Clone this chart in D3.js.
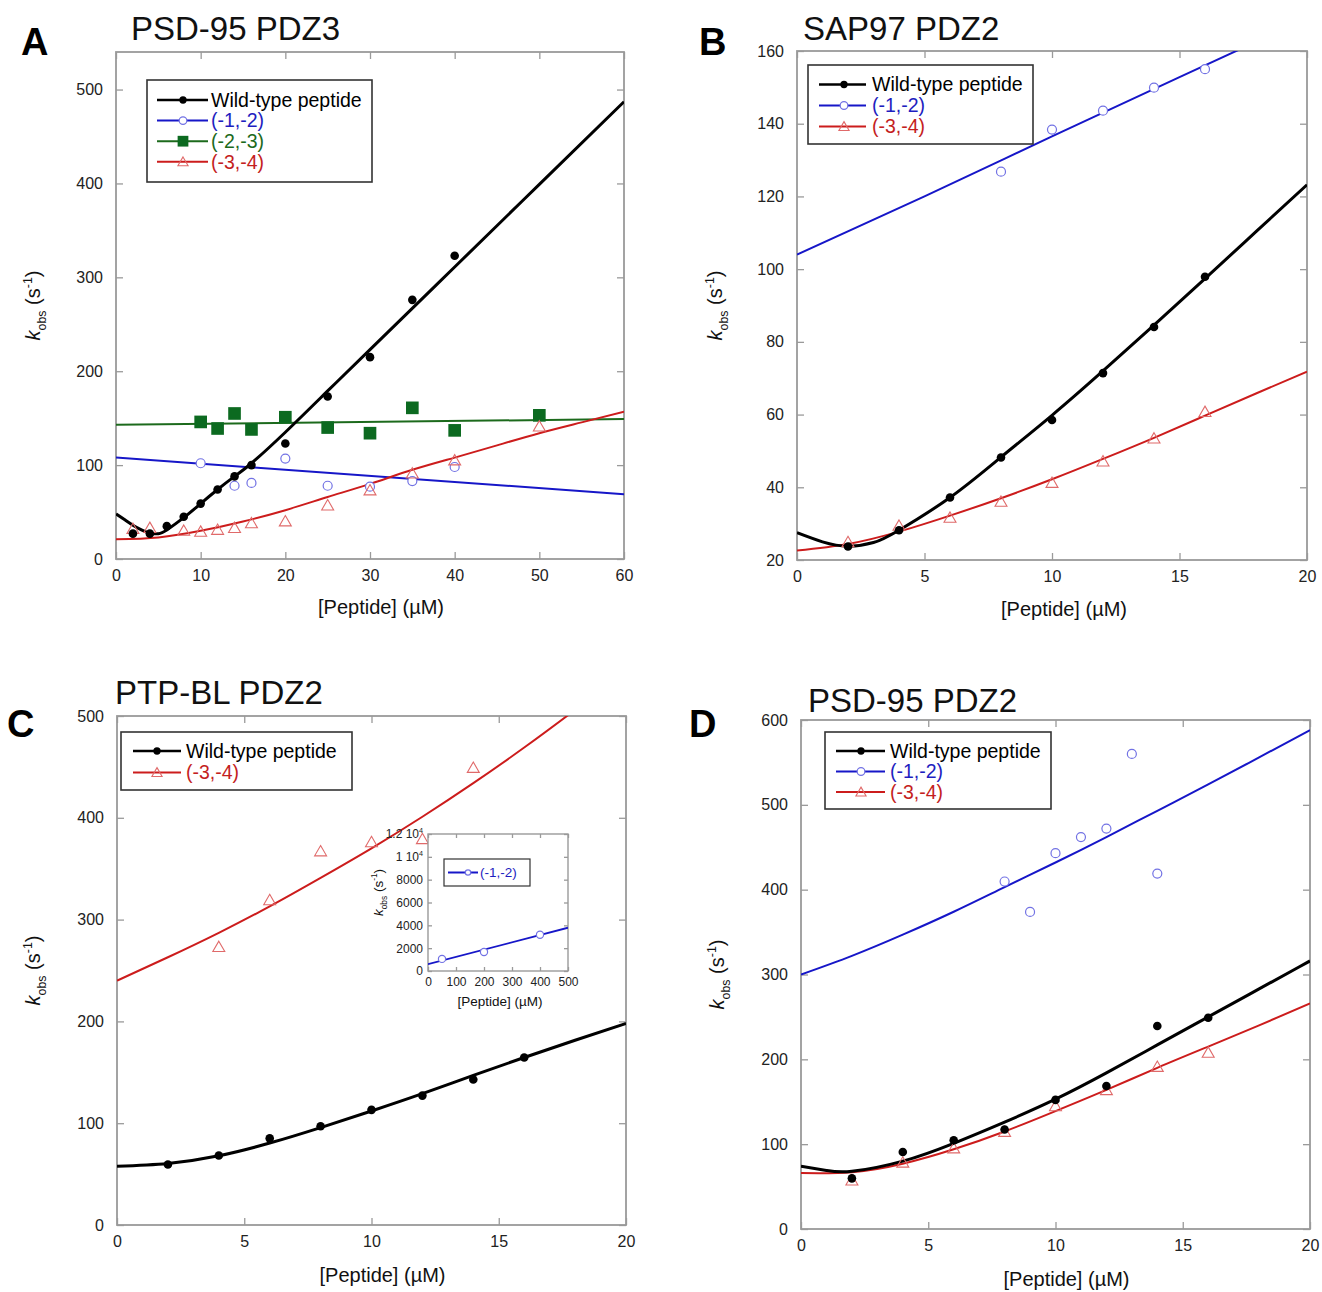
<!DOCTYPE html>
<html>
<head>
<meta charset="utf-8">
<script src="https://cdn.jsdelivr.net/npm/d3@7"></script>
<style>
  body { margin: 0; background: #fff; }
  svg { display: block; font-family: "Liberation Sans", Arial, Helvetica, sans-serif; }
</style>
</head>
<body>
<svg id="fig" width="1322" height="1292"></svg>
<script>
// ---- data ----
// A: PSD-95 PDZ3
var aWtX = [2, 4, 6, 8, 10, 12, 14, 16, 20, 25, 30, 35, 40];
var aWtY = [27, 27, 35, 45, 59, 74, 88, 100, 123, 173, 215, 276, 323];
var aWtFitX = [0, 1, 2, 3, 4, 5, 6, 8, 10, 12, 14, 16, 20, 25, 30, 40, 50, 60];
var aWtFitY = [48, 42, 36, 31, 27.5, 27, 31, 44, 59, 74, 88, 102, 135, 179, 223, 311, 399, 487];
var aM12X = [10, 14, 16, 20, 25, 30, 35, 40];
var aM12Y = [102, 78, 81, 107, 78, 77, 83, 98];
var aM12FitX = [0, 60];
var aM12FitY = [108, 69];
var aM23X = [10, 12, 14, 16, 20, 25, 30, 35, 40, 50];
var aM23Y = [146, 139, 155, 138, 151, 140, 134, 161, 137, 153];
var aM23FitX = [0, 60];
var aM23FitY = [143, 149];
var aM34X = [2, 4, 8, 10, 12, 14, 16, 20, 25, 30, 35, 40, 50];
var aM34Y = [32, 33, 30, 29, 31, 33, 38, 40, 57, 73, 91, 105, 141];
var aM34FitX = [0, 5, 10, 15, 20, 25, 30, 35, 40, 45, 50, 55, 60];
var aM34FitY = [21, 23, 30, 40, 52, 66, 80, 95, 108, 121, 134, 145.5, 157];

// B: SAP97 PDZ2
var bWtX = [2, 4, 6, 8, 10, 12, 14, 16];
var bWtY = [23.7, 28.2, 37.2, 48.2, 58.5, 71.4, 84.1, 97.9];
var bWtFitX = [0, 1, 2, 3, 4, 6, 8, 10, 12, 14, 16, 18, 20];
var bWtFitY = [27.5, 25, 23.8, 24.8, 28.2, 37.2, 48.3, 59.8, 72, 84.6, 97.4, 110.3, 123.2];
var bM12X = [8, 10, 12, 14, 16];
var bM12Y = [126.8, 138.4, 143.6, 149.9, 155];
var bM12FitX = [0, 5, 10, 15, 20];
var bM12FitY = [104, 120, 136.5, 152.8, 169];
var bM34X = [2, 4, 6, 8, 10, 12, 14, 16];
var bM34Y = [24.9, 29.4, 31.6, 36, 41.2, 47.1, 53.4, 60.7];
var bM34FitX = [0, 2, 4, 6, 8, 10, 12, 14, 16, 18, 20];
var bM34FitY = [22.6, 24.4, 27.8, 32.2, 37, 42.2, 47.8, 53.6, 59.7, 65.8, 71.8];

// C: PTP-BL PDZ2
var cWtX = [2, 4, 6, 8, 10, 12, 14, 16];
var cWtY = [59.5, 68.3, 85.1, 97, 113.1, 127.1, 142.9, 164.6];
var cWtFitX = [0, 2, 4, 6, 8, 10, 12, 14, 16, 18, 20];
var cWtFitY = [57.8, 60.5, 68, 80.5, 95.7, 112, 129, 147, 164.5, 181.5, 198];
var cM34X = [4, 6, 8, 10, 12, 14];
var cM34Y = [273, 319, 367, 376, 379, 449];
var cM34FitX = [0, 2, 4, 6, 8, 10, 12, 14, 16, 18, 20];
var cM34FitY = [240, 263, 287, 313, 341, 370, 401, 434, 469, 506, 544];
// C inset: (-1,-2)
var cInM12X = [50, 200, 400];
var cInM12Y = [1060, 1670, 3180];
var cInM12FitX = [0, 500];
var cInM12FitY = [600, 3790];

// D: PSD-95 PDZ2
var dWtX = [2, 4, 6, 8, 10, 12, 14, 16];
var dWtY = [59.7, 90.8, 104.7, 117.3, 152.2, 168.6, 239.3, 249];
var dWtFitX = [0, 1, 2, 4, 6, 8, 10, 12, 14, 16, 18, 20];
var dWtFitY = [74, 69, 68, 80, 101, 126, 153, 184, 217, 250, 283, 316];
var dM12X = [8, 9, 10, 11, 12, 13, 14];
var dM12Y = [409.6, 373.8, 443, 462, 472, 560, 419];
var dM12FitX = [0, 2, 4, 6, 8, 10, 12, 14, 16, 18, 20];
var dM12FitY = [300, 322, 347, 374, 403, 432, 462, 493, 524, 556, 588];
var dM34X = [2, 4, 6, 8, 10, 12, 14, 16];
var dM34Y = [57.2, 78.2, 95, 114.4, 144.7, 163.6, 191, 207.7];
var dM34FitX = [0, 2, 4, 6, 8, 10, 12, 14, 16, 18, 20];
var dM34FitY = [66, 67, 77, 94, 115, 139, 164, 190, 215, 240, 266];

// ticks
var aXTicks = [0, 10, 20, 30, 40, 50, 60];
var aYTicks = [0, 100, 200, 300, 400, 500];
var bXTicks = [0, 5, 10, 15, 20];
var bYTicks = [20, 40, 60, 80, 100, 120, 140, 160];
var cXTicks = [0, 5, 10, 15, 20];
var cYTicks = [0, 100, 200, 300, 400, 500];
var dXTicks = [0, 5, 10, 15, 20];
var dYTicks = [0, 100, 200, 300, 400, 500, 600];
var inXTicks = [0, 100, 200, 300, 400, 500];
var inYTicks = [0, 2000, 4000, 6000, 8000, 10000, 12000];

var seriesNames = {wt: "Wild-type peptide", m12: "(-1,-2)", m23: "(-2,-3)", m34: "(-3,-4)"};

// ---- styling ----
var style = {
  wt:  {line: "#000000", width: 3,   text: "#000000"},
  m12: {line: "#1616c8", width: 2,   text: "#1e1ec0"},
  m23: {line: "#1c6a1c", width: 2,   text: "#1c6a1c"},
  m34: {line: "#cc1c1c", width: 2,   text: "#c41e1e"}
};

var svg = d3.select("#fig");

function addMarks(g, kind, pts, k) {
  k = k || 1;
  var sel = g.selectAll(null).data(pts).enter();
  if (kind === "wt") {
    sel.append("circle")
      .attr("cx", function (d) { return d[0]; })
      .attr("cy", function (d) { return d[1]; })
      .attr("r", 4.3 * k)
      .attr("fill", "#000");
  } else if (kind === "m12") {
    sel.append("circle")
      .attr("cx", function (d) { return d[0]; })
      .attr("cy", function (d) { return d[1]; })
      .attr("r", 4.5 * k)
      .attr("fill", "#fff")
      .attr("stroke", "#7272e4")
      .attr("stroke-width", 1.2);
  } else if (kind === "m23") {
    sel.append("path")
      .attr("transform", function (d) { return "translate(" + d[0] + "," + d[1] + ")"; })
      .attr("d", d3.symbol().type(d3.symbolSquare).size(160 * k * k))
      .attr("fill", "#0c6a20");
  } else if (kind === "m34") {
    sel.append("path")
      .attr("transform", function (d) { return "translate(" + d[0] + "," + (d[1] + 1) + ")"; })
      .attr("d", d3.symbol().type(d3.symbolTriangle).size(62 * k * k))
      .attr("fill", "none")
      .attr("stroke", "#e06a6a")
      .attr("stroke-width", 1.1);
  }
}

function yTitle(g, cx, cy, size) {
  var t = g.append("text")
    .attr("transform", "translate(" + cx + "," + cy + ") rotate(-90)")
    .attr("text-anchor", "middle")
    .attr("font-size", size)
    .attr("fill", "#111");
  t.append("tspan").attr("font-style", "italic").text("k");
  t.append("tspan").attr("font-size", size * 0.62).attr("dy", size * 0.3).text("obs");
  t.append("tspan").attr("dy", -size * 0.3).text(" (s");
  t.append("tspan").attr("font-size", size * 0.62).attr("dy", -size * 0.42).text("-1");
  t.append("tspan").attr("dy", size * 0.42).text(")");
}

function drawPanel(p) {
  var x = d3.scaleLinear().domain(p.xDomain).range([p.left, p.right]);
  var y = d3.scaleLinear().domain(p.yDomain).range([p.bottom, p.top]);
  var g = svg.append("g");
  var fs = p.fontSize || 16;
  var tl = p.tickLen || 7;

  svg.append("clipPath").attr("id", "clip-" + p.id)
    .append("rect")
    .attr("x", p.left).attr("y", p.top)
    .attr("width", p.right - p.left).attr("height", p.bottom - p.top);

  if (p.inset) {
    g.append("rect")
      .attr("x", p.left).attr("y", p.top)
      .attr("width", p.right - p.left).attr("height", p.bottom - p.top)
      .attr("fill", "#fff");
  }

  // axes, ticks pointing inward on all four sides
  var fmt = d3.format("d");
  var axes = [
    {a: d3.axisBottom(x).tickValues(p.xTicks).tickFormat(fmt).tickPadding(p.xPad || 11), t: "translate(0," + p.bottom + ")"},
    {a: d3.axisTop(x).tickValues(p.xTicks).tickFormat(""), t: "translate(0," + p.top + ")"},
    {a: d3.axisLeft(y).tickValues(p.yTicks).tickFormat(fmt).tickPadding(p.yPad || 13), t: "translate(" + p.left + ",0)", left: true},
    {a: d3.axisRight(y).tickValues(p.yTicks).tickFormat(""), t: "translate(" + p.right + ",0)"}
  ];
  axes.forEach(function (ax) {
    var ag = g.append("g")
      .attr("transform", ax.t)
      .call(ax.a.tickSizeInner(-tl).tickSizeOuter(0));
    ag.select(".domain").remove();
    ag.selectAll(".tick line").attr("stroke", "#9a9a9a").attr("stroke-width", 1.3);
    ag.selectAll("text")
      .attr("font-size", fs)
      .attr("font-family", null)
      .attr("fill", "#222");
    if (ax.left && p.yTickText) {
      ag.selectAll(".tick text")
        .filter(function (d) { return p.yTickText[d] !== undefined; })
        .each(function (d) {
          var t = d3.select(this).text(p.yTickText[d][0]);
          t.append("tspan").attr("font-size", fs * 0.6).attr("dy", -fs * 0.45).text(p.yTickText[d][1]);
        });
    }
  });

  g.append("rect")
    .attr("x", p.left).attr("y", p.top)
    .attr("width", p.right - p.left).attr("height", p.bottom - p.top)
    .attr("fill", "none")
    .attr("stroke", "#9a9a9a")
    .attr("stroke-width", p.inset ? 1.4 : 1.8);

  // fitted curves
  var line = d3.line()
    .x(function (d) { return x(d[0]); })
    .y(function (d) { return y(d[1]); })
    .curve(d3.curveNatural);
  var plot = g.append("g").attr("clip-path", "url(#clip-" + p.id + ")");
  p.series.forEach(function (s) {
    var pts = s.fitX.map(function (v, i) { return [v, s.fitY[i]]; });
    plot.append("path")
      .datum(pts)
      .attr("d", line)
      .attr("fill", "none")
      .attr("stroke", style[s.key].line)
      .attr("stroke-width", (p.inset ? 1.8 : style[s.key].width));
  });
  p.series.forEach(function (s) {
    var pts = s.x.map(function (v, i) { return [x(v), y(s.y[i])]; });
    addMarks(g, s.key, pts, p.markScale);
  });

  // axis titles
  g.append("text")
    .attr("x", (p.left + p.right) / 2 + (p.xTitleShift || 0))
    .attr("y", p.bottom + p.xTitleGap)
    .attr("text-anchor", "middle")
    .attr("font-size", p.titleSize || 20)
    .attr("fill", "#111")
    .text("[Peptide] (\u00b5M)");
  yTitle(g, p.left - p.yTitleGap, (p.top + p.bottom) / 2 + (p.yTitleShift || 0), p.titleSize || 20);

  if (p.title) {
    g.append("text")
      .attr("x", p.title.x).attr("y", p.title.y)
      .attr("font-size", 33)
      .attr("fill", "#111")
      .text(p.title.text);
    g.append("text")
      .attr("x", p.letter.x).attr("y", p.letter.y)
      .attr("font-size", 38)
      .attr("font-weight", "bold")
      .attr("fill", "#000")
      .text(p.letter.text);
  }

  // legend
  var L = p.legend;
  var lg = g.append("g");
  lg.append("rect")
    .attr("x", L.x).attr("y", L.y)
    .attr("width", L.w).attr("height", L.h)
    .attr("fill", "#fff")
    .attr("stroke", "#333")
    .attr("stroke-width", p.inset ? 1.2 : 1.6);
  L.keys.forEach(function (key, i) {
    var ry = L.row0 + i * L.step;
    lg.append("line")
      .attr("x1", L.lx0).attr("x2", L.lx1)
      .attr("y1", ry).attr("y2", ry)
      .attr("stroke", style[key].line)
      .attr("stroke-width", key === "wt" ? 2.6 : 2);
    addMarks(lg, key, [[L.mx, ry]], L.markScale);
    lg.append("text")
      .attr("x", L.tx).attr("y", ry)
      .attr("dy", "0.35em")
      .attr("font-size", L.fontSize)
      .attr("fill", style[key].text)
      .text(seriesNames[key]);
  });
}

drawPanel({
  id: "a", left: 116, right: 624, top: 52, bottom: 559,
  xDomain: [0, 60], yDomain: [0, 540], xTicks: aXTicks, yTicks: aYTicks,
  xTitleGap: 55, xTitleShift: 11, yTitleGap: 76,
  title: {text: "PSD-95 PDZ3", x: 131, y: 40}, letter: {text: "A", x: 21, y: 55},
  series: [
    {key: "m23", x: aM23X, y: aM23Y, fitX: aM23FitX, fitY: aM23FitY},
    {key: "m12", x: aM12X, y: aM12Y, fitX: aM12FitX, fitY: aM12FitY},
    {key: "m34", x: aM34X, y: aM34Y, fitX: aM34FitX, fitY: aM34FitY},
    {key: "wt", x: aWtX, y: aWtY, fitX: aWtFitX, fitY: aWtFitY}
  ],
  legend: {x: 147, y: 80, w: 225, h: 102, row0: 100, step: 20.6, lx0: 157, lx1: 208, mx: 183, tx: 211,
           fontSize: 19.5, markScale: 0.85, keys: ["wt", "m12", "m23", "m34"]}
});

drawPanel({
  id: "b", left: 797, right: 1307, top: 51, bottom: 560,
  xDomain: [0, 20], yDomain: [20, 160], xTicks: bXTicks, yTicks: bYTicks,
  xTitleGap: 56, xTitleShift: 12, yTitleGap: 75,
  title: {text: "SAP97 PDZ2", x: 803, y: 40}, letter: {text: "B", x: 699, y: 55},
  series: [
    {key: "m12", x: bM12X, y: bM12Y, fitX: bM12FitX, fitY: bM12FitY},
    {key: "m34", x: bM34X, y: bM34Y, fitX: bM34FitX, fitY: bM34FitY},
    {key: "wt", x: bWtX, y: bWtY, fitX: bWtFitX, fitY: bWtFitY}
  ],
  legend: {x: 808, y: 65, w: 225, h: 79, row0: 84.5, step: 21, lx0: 819, lx1: 866, mx: 844, tx: 872,
           fontSize: 19.5, markScale: 0.85, keys: ["wt", "m12", "m34"]}
});

drawPanel({
  id: "c", left: 117, right: 626, top: 716, bottom: 1225,
  xDomain: [0, 20], yDomain: [0, 500], xTicks: cXTicks, yTicks: cYTicks,
  xTitleGap: 57, xTitleShift: 11, yTitleGap: 77,
  title: {text: "PTP-BL PDZ2", x: 115, y: 704}, letter: {text: "C", x: 7, y: 737},
  series: [
    {key: "m34", x: cM34X, y: cM34Y, fitX: cM34FitX, fitY: cM34FitY},
    {key: "wt", x: cWtX, y: cWtY, fitX: cWtFitX, fitY: cWtFitY}
  ],
  legend: {x: 121, y: 732, w: 231, h: 58, row0: 751, step: 21.5, lx0: 133, lx1: 181, mx: 157, tx: 186,
           fontSize: 19.5, markScale: 0.85, keys: ["wt", "m34"]}
});

drawPanel({
  id: "cin", inset: true, left: 428, right: 568, top: 834, bottom: 971,
  xDomain: [0, 500], yDomain: [0, 12000], xTicks: inXTicks, yTicks: inYTicks,
  fontSize: 12, tickLen: 4, xPad: 6, yPad: 5, titleSize: 13.5, markScale: 0.8,
  yTickText: {10000: ["1 10", "4"], 12000: ["1.2 10", "4"]},
  xTitleGap: 35, xTitleShift: 2, yTitleGap: 45, yTitleShift: -10,
  series: [
    {key: "m12", x: cInM12X, y: cInM12Y, fitX: cInM12FitX, fitY: cInM12FitY}
  ],
  legend: {x: 444, y: 859, w: 86, h: 27, row0: 872.5, step: 0, lx0: 448, lx1: 478, mx: 468, tx: 480,
           fontSize: 13.5, markScale: 0.6, keys: ["m12"]}
});

drawPanel({
  id: "d", left: 801, right: 1310, top: 720, bottom: 1229,
  xDomain: [0, 20], yDomain: [0, 600], xTicks: dXTicks, yTicks: dYTicks,
  xTitleGap: 57, xTitleShift: 11, yTitleGap: 77,
  title: {text: "PSD-95 PDZ2", x: 808, y: 712}, letter: {text: "D", x: 689, y: 737},
  series: [
    {key: "m12", x: dM12X, y: dM12Y, fitX: dM12FitX, fitY: dM12FitY},
    {key: "m34", x: dM34X, y: dM34Y, fitX: dM34FitX, fitY: dM34FitY},
    {key: "wt", x: dWtX, y: dWtY, fitX: dWtFitX, fitY: dWtFitY}
  ],
  legend: {x: 825, y: 732, w: 226, h: 77, row0: 751, step: 20.5, lx0: 836, lx1: 885, mx: 861, tx: 890,
           fontSize: 19.5, markScale: 0.85, keys: ["wt", "m12", "m34"]}
});
</script>
</body>
</html>
